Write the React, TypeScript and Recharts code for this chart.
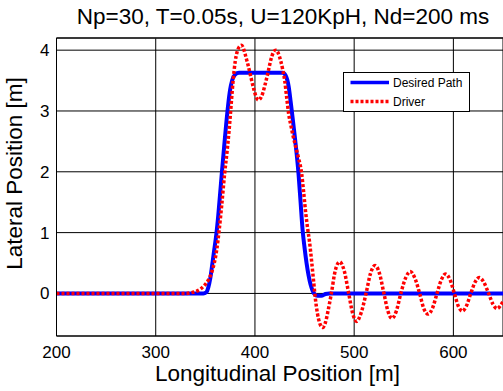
import { LineChart, Line, XAxis, YAxis, CartesianGrid, ReferenceLine, Legend } from "recharts";

const BLUE = "#0000FF";
const RED = "#FF0000";
const FONT = "'Liberation Sans', Arial, Helvetica, sans-serif";

const xTicks = [200, 300, 400, 500, 600];
const yTicks = [0, 1, 2, 3, 4];

// desired path (blue)
const desiredX = [200, 348, 351, 353, 355, 357, 359, 361, 363, 365, 367, 369, 371, 373, 375, 377, 380, 384, 428, 431, 434, 436, 438, 440, 442, 444, 446, 448, 450, 452, 454, 456, 458, 460, 463, 467, 471, 475, 650];
const desiredY = [0, 0, 0.02, 0.1, 0.25, 0.48, 0.72, 0.96, 1.28, 1.66, 2.05, 2.42, 2.78, 3.1, 3.35, 3.5, 3.6, 3.63, 3.63, 3.58, 3.4, 3.15, 2.88, 2.6, 2.3, 1.95, 1.5, 1.05, 0.75, 0.5, 0.3, 0.15, 0.05, -0.01, -0.04, -0.04, -0.01, 0, 0];

// driver response (red dotted)
const driverX = [200, 330, 335, 340, 345, 349, 353, 356, 359, 361.5, 364, 366.5, 369.5, 372, 374, 376, 378, 380, 382, 384, 386.5, 389, 391, 393, 396, 399, 401, 403.3, 406, 408, 410, 413, 416, 418.5, 421, 423.5, 426, 428, 430, 432, 434, 436, 438, 441, 444, 447, 449, 451, 453, 455, 457, 459, 461, 463, 465.5, 468.3, 471, 473.5, 477, 481, 485.5, 490, 494.5, 498.5, 502.5, 507, 512, 516.5, 521, 525.5, 530, 534, 538, 542.5, 547, 552, 556.5, 561, 566, 570, 574.5, 579, 583.5, 588, 592, 596.5, 601, 605, 609, 613, 617.5, 622, 626, 630.5, 635.5, 640, 644, 647.5, 650];
const driverY = [0, 0, 0.01, 0.03, 0.07, 0.13, 0.22, 0.33, 0.5, 0.72, 1.05, 1.45, 1.98, 2.35, 2.69, 3.1, 3.5, 3.8, 3.97, 4.05, 4.08, 4.0, 3.88, 3.76, 3.55, 3.35, 3.24, 3.18, 3.22, 3.3, 3.42, 3.62, 3.84, 3.96, 4.0, 3.95, 3.82, 3.68, 3.5, 3.22, 2.95, 2.78, 2.62, 2.42, 2.22, 1.98, 1.68, 1.35, 1.08, 0.85, 0.55, 0.22, -0.1, -0.33, -0.5, -0.56, -0.48, -0.3, 0, 0.38, 0.52, 0.37, 0, -0.33, -0.46, -0.32, 0, 0.33, 0.46, 0.33, 0, -0.29, -0.41, -0.29, 0, 0.26, 0.36, 0.26, 0, -0.24, -0.34, -0.24, 0, 0.23, 0.32, 0.23, 0, -0.21, -0.29, -0.21, 0, 0.19, 0.26, 0.19, 0, -0.18, -0.25, -0.2, -0.13];

const desired = desiredX.map((x, i) => ({ x, y: desiredY[i] }));
const driver = driverX.map((x, i) => ({ x, y: driverY[i] }));

function LegendBox() {
  return (
    <div style={{ width: 125, height: 38, border: "1px solid #000", background: "#fff", position: "relative" }}>
      <svg width={125} height={38} style={{ position: "absolute", left: 0, top: 0 }}>
        <line x1={6.5} x2={45} y1={9.5} y2={9.5} stroke={BLUE} strokeWidth={3.5} />
        <line x1={6.5} x2={45} y1={28.5} y2={28.5} stroke={RED} strokeWidth={3.5} strokeDasharray="3 2" />
        <text x={49} y={14} fontSize={12} fontFamily={FONT} fill="#000">Desired Path</text>
        <text x={49} y={32.5} fontSize={12} fontFamily={FONT} fill="#000">Driver</text>
      </svg>
    </div>
  );
}

export default function App() {
  const tick = { fontSize: 17, fill: "#000", fontFamily: FONT };
  return (
    <div style={{ position: "absolute", left: 0, top: 0, width: 503, height: 391, background: "#fff", overflow: "hidden" }}>
      <LineChart width={503} height={391} margin={{ top: 38, right: 0, bottom: 25, left: 0 }}>
        <CartesianGrid stroke="#000" strokeWidth={1} />
        <XAxis type="number" dataKey="x" domain={[200, 650]} ticks={xTicks} interval={0} allowDataOverflow
          height={30} tickSize={8} tickLine={false} tick={tick} axisLine={{ stroke: "#000" }} />
        <YAxis type="number" domain={[-0.7, 4.2]} ticks={yTicks} interval={0} allowDataOverflow
          width={56.5} tickSize={5} tickLine={false} tick={tick} axisLine={{ stroke: "#000" }} />
        <ReferenceLine y={4.2} stroke="#222" strokeWidth={1.5} />
        <Legend layout="vertical" align="center" verticalAlign="middle" content={() => <LegendBox />}
          wrapperStyle={{ position: "absolute", left: 343, top: 72, width: 127, height: 40 }} />
        <Line data={desired} dataKey="y" name="Desired Path" type="monotone" stroke={BLUE} strokeWidth={4}
          dot={false} activeDot={false} isAnimationActive={false} />
        <Line data={driver} dataKey="y" name="Driver" type="monotone" stroke={RED} strokeWidth={3.5}
          strokeDasharray="3 2" dot={false} activeDot={false} isAnimationActive={false} />
      </LineChart>
      <svg width={503} height={391} style={{ position: "absolute", left: 0, top: 0, pointerEvents: "none" }}>
        <text x={283} y={24} textAnchor="middle" fontSize={22.5} fontFamily={FONT} fill="#000">
          Np=30, T=0.05s, U=120KpH, Nd=200 ms
        </text>
        <text x={277.5} y={381} textAnchor="middle" fontSize={22.5} fontFamily={FONT} fill="#000">
          Longitudinal Position [m]
        </text>
        <text transform="translate(22,173.5) rotate(-90)" textAnchor="middle" fontSize={22.5} fontFamily={FONT} fill="#000">
          Lateral Position [m]
        </text>
      </svg>
    </div>
  );
}
